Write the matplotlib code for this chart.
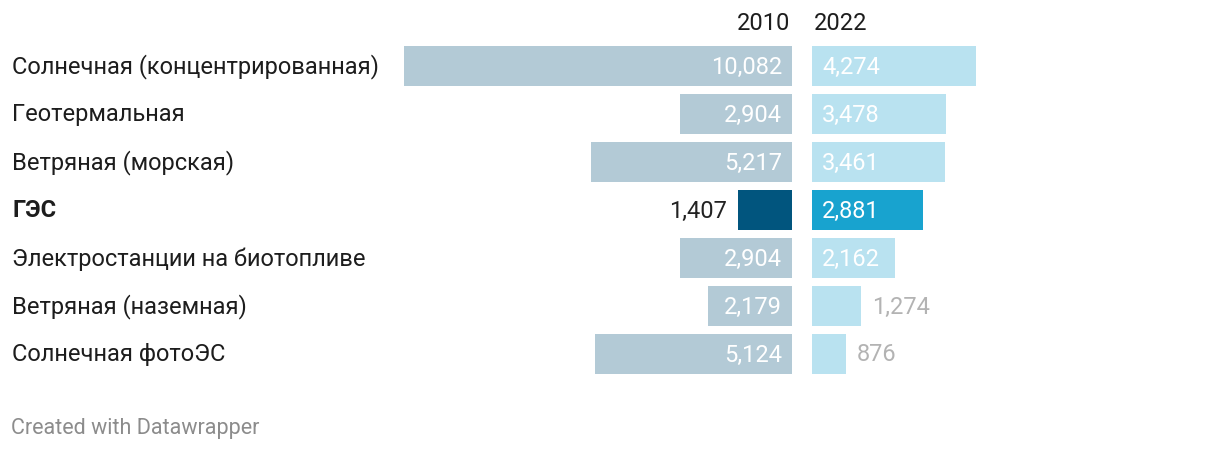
import matplotlib.pyplot as plt

plt.rcParams['font.family'] = ['Roboto', 'DejaVu Sans']

categories = ['Солнечная (концентрированная)', 'Геотермальная', 'Ветряная (морская)',
              'ГЭС', 'Электростанции на биотопливе', 'Ветряная (наземная)', 'Солнечная фотоЭС']
values_2010 = [10082, 2904, 5217, 1407, 2904, 2179, 5124]
values_2022 = [4274, 3478, 3461, 2881, 2162, 1274, 876]
highlight = 'ГЭС'

W, H = 1220, 452
px_per_unit = 388 / 10082
FS = 17

c2010, c2010_hi = '#b3cad6', '#01557e'
c2022, c2022_hi = '#b9e2f0', '#18a3cf'


def to_fig(x0, y0, w, h):
    return [x0 / W, 1 - (y0 + h) / H, w / W, h / H]


fig = plt.figure(figsize=(W / 100, H / 100), dpi=100)
top, rows_h = 43, 48 * len(categories)
ax1 = fig.add_axes(to_fig(300, top, 492, rows_h))
ax2 = fig.add_axes(to_fig(812, top, 398, rows_h))
ax1.set_xlim(492 / px_per_unit, 0)
ax2.set_xlim(0, 398 / px_per_unit)

ys = list(range(len(categories)))
for ax, vals, col, col_hi, ha_in in [(ax1, values_2010, c2010, c2010_hi, 'right'),
                                      (ax2, values_2022, c2022, c2022_hi, 'left')]:
    colors = [col_hi if c == highlight else col for c in categories]
    ax.barh(ys, vals, height=40 / 48, color=colors)
    pad = 10 / px_per_unit
    for y, v, c in zip(ys, vals, categories):
        txt = f'{v:,}'
        if v > 1800:
            ax.text(pad, y, txt, ha=ha_in, va='center', color='white', fontsize=FS)
        else:
            out_col = '#222222' if c == highlight else '#b3b3b3'
            ax.text(v + 1.1 * pad, y, txt, ha=ha_in, va='center', color=out_col, fontsize=FS)
    ax.set_ylim(len(categories) - 0.5, -0.5)
    ax.axis('off')

for y, c in zip(ys, categories):
    ax1.text(12 / W, 1 - (67 + 48 * y) / H, c, transform=fig.transFigure, ha='left', va='center',
             fontsize=FS, color='#1d1d1d', fontweight='bold' if c == highlight else 'normal')

fig.text(790 / W, 1 - 23 / H, '2010', ha='right', va='center', fontsize=FS, color='#1d1d1d')
fig.text(814 / W, 1 - 23 / H, '2022', ha='left', va='center', fontsize=FS, color='#1d1d1d')
fig.text(11 / W, 1 - 429 / H, 'Created with Datawrapper', ha='left', va='center',
         fontsize=15.5, color='#8c8c8c')

fig.savefig('out.png', dpi=100)
